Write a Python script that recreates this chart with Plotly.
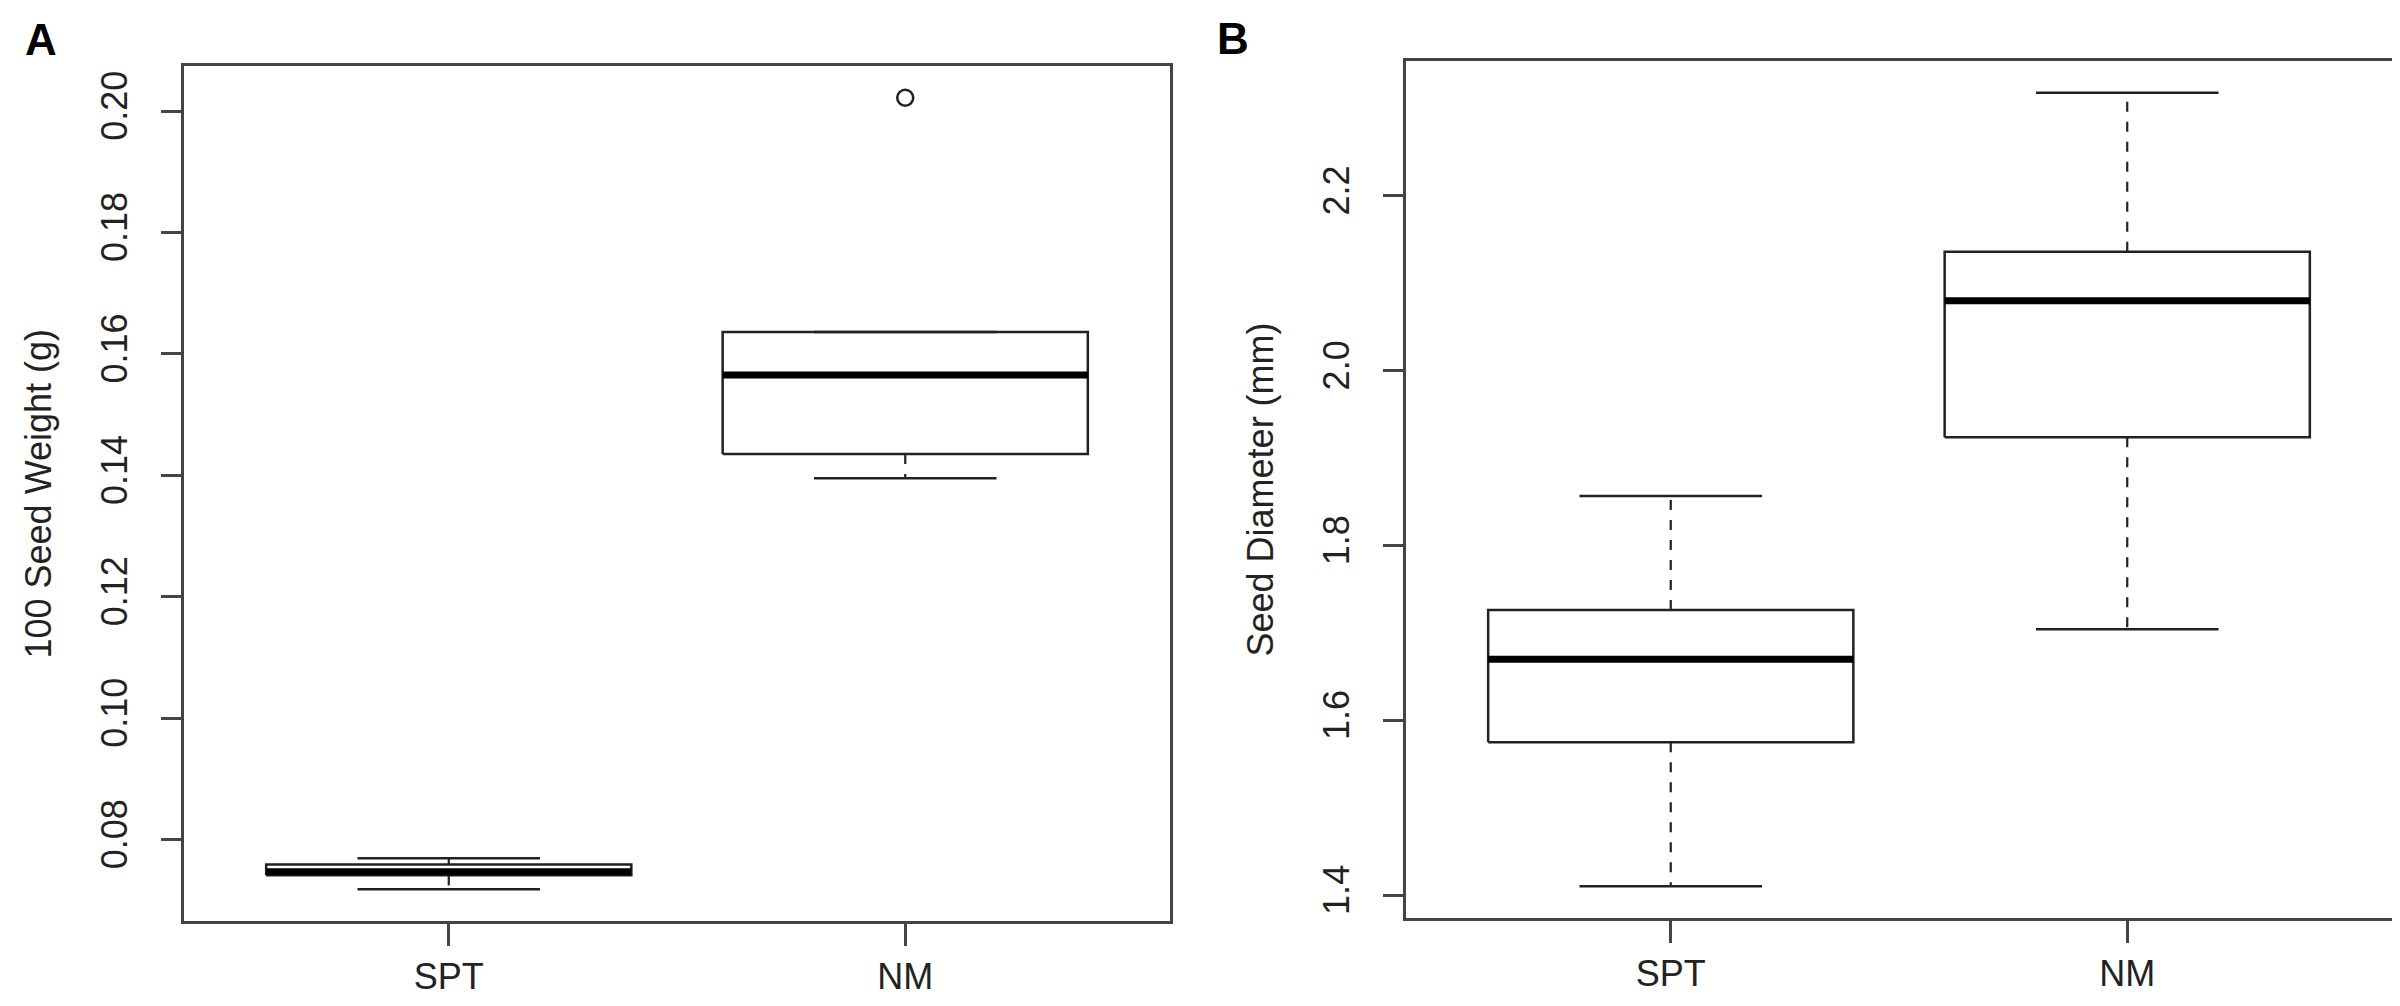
import plotly.graph_objects as go

groups = ["SPT", "NM"]
positions = [1, 2]

# panel A - 100 seed weight (g)
weight_low = [0.0718, 0.1395]
weight_q1 = [0.0741, 0.1435]
weight_median = [0.0747, 0.1565]
weight_q3 = [0.0759, 0.1636]
weight_high = [0.0769, 0.1636]
weight_outliers = [[], [0.2022]]
weight_ticks = [0.08, 0.10, 0.12, 0.14, 0.16, 0.18, 0.20]
weight_ticktext = ["0.08", "0.10", "0.12", "0.14", "0.16", "0.18", "0.20"]

# panel B - seed diameter (mm)
diam_low = [1.4103, 1.7044]
diam_q1 = [1.5751, 1.9240]
diam_median = [1.6700, 2.0800]
diam_q3 = [1.7262, 2.1360]
diam_high = [1.8567, 2.3180]
diam_outliers = [[], []]
diam_ticks = [1.4, 1.6, 1.8, 2.0, 2.2]
diam_ticktext = ["1.4", "1.6", "1.8", "2.0", "2.2"]

LINE = "#222222"
FRAME = "#444444"
FONT = "Liberation Sans, Arial, sans-serif"


def r_range(low, high, outliers):
    # R pads the data range by 4% on each side
    vals = low + high + [v for grp in outliers for v in grp]
    lo, hi = min(vals), max(vals)
    d = hi - lo
    return [lo - 0.04 * d, hi + 0.04 * d]


def add_boxes(fig, xa, ya, low, q1, med, q3, high, outliers):
    box_x, box_y = [], []
    med_x, med_y = [], []
    wh_x, wh_y = [], []
    cap_x, cap_y = [], []
    out_x, out_y = [], []
    for p, lo, a, m, b, hi, outs in zip(positions, low, q1, med, q3, high, outliers):
        box_x += [p - 0.4, p + 0.4, p + 0.4, p - 0.4, p - 0.4, None]
        box_y += [a, a, b, b, a, None]
        med_x += [p - 0.4, p + 0.4, None]
        med_y += [m, m, None]
        wh_x += [p, p, None, p, p, None]
        wh_y += [b, hi, None, a, lo, None]
        cap_x += [p - 0.2, p + 0.2, None, p - 0.2, p + 0.2, None]
        cap_y += [hi, hi, None, lo, lo, None]
        out_x += [p] * len(outs)
        out_y += outs

    common = dict(xaxis=xa, yaxis=ya, showlegend=False, hoverinfo="skip")
    fig.add_trace(go.Scatter(x=wh_x, y=wh_y, mode="lines",
                             line=dict(color=LINE, width=2.2, dash="10px,10px"), **common))
    fig.add_trace(go.Scatter(x=cap_x, y=cap_y, mode="lines",
                             line=dict(color=LINE, width=2.5), **common))
    fig.add_trace(go.Scatter(x=box_x, y=box_y, mode="lines",
                             line=dict(color=LINE, width=2.5), **common))
    fig.add_trace(go.Scatter(x=med_x, y=med_y, mode="lines",
                             line=dict(color="black", width=7), **common))
    if out_x:
        fig.add_trace(go.Scatter(x=out_x, y=out_y, mode="markers",
                                 marker=dict(symbol="circle-open", size=16, color=LINE,
                                             line=dict(width=2.5, color=LINE)), **common))


fig = go.Figure()
add_boxes(fig, "x", "y", weight_low, weight_q1, weight_median, weight_q3, weight_high, weight_outliers)
add_boxes(fig, "x2", "y2", diam_low, diam_q1, diam_median, diam_q3, diam_high, diam_outliers)

W, H = 2400, 1006
dom_ax = [176 / W, 1162 / W]
dom_ay = [1 - 913 / H, 1 - 58 / H]
dom_bx = [1398 / W, 2384 / W]
dom_by = [1 - 910 / H, 1 - 53 / H]

xcommon = dict(range=[0.42, 2.58], tickmode="array", tickvals=positions, ticktext=groups,
               showline=True, mirror=True, linecolor=FRAME, linewidth=3,
               ticks="outside", ticklen=22, tickwidth=2.5, tickcolor=FRAME,
               showgrid=False, zeroline=False, tickfont=dict(size=36, color="#222"))
ycommon = dict(tickmode="array", showline=True, mirror=True, linecolor=FRAME, linewidth=3,
               ticks="outside", ticklen=20, tickwidth=2.5, tickcolor=FRAME, tickangle=-90,
               ticklabelstandoff=20,
               showgrid=False, zeroline=False, tickfont=dict(size=36, color="#222"))

fig.update_layout(
    width=W, height=H,
    margin=dict(l=0, r=0, t=0, b=0),
    paper_bgcolor="white", plot_bgcolor="white",
    font=dict(family=FONT, color="#222"),
    xaxis=dict(domain=dom_ax, anchor="y", **xcommon),
    yaxis=dict(domain=dom_ay, anchor="x", range=r_range(weight_low, weight_high, weight_outliers),
               tickvals=weight_ticks, ticktext=weight_ticktext, **ycommon),
    xaxis2=dict(domain=dom_bx, anchor="y2", **xcommon),
    yaxis2=dict(domain=dom_by, anchor="x2", range=r_range(diam_low, diam_high, diam_outliers),
                tickvals=diam_ticks, ticktext=diam_ticktext, **ycommon),
    annotations=[
        dict(text="<b>A</b>", x=33 / W, y=1 - 31 / H, xref="paper", yref="paper",
             xanchor="center", yanchor="middle",
             showarrow=False, font=dict(size=44, color="black")),
        dict(text="<b>B</b>", x=1225 / W, y=1 - 30 / H, xref="paper", yref="paper",
             xanchor="center", yanchor="middle",
             showarrow=False, font=dict(size=44, color="black")),
        dict(text="100 Seed Weight (g)", textangle=-90, x=30 / W, y=sum(dom_ay) / 2,
             xref="paper", yref="paper", xanchor="center", yanchor="middle",
             showarrow=False, font=dict(size=36)),
        dict(text="Seed Diameter (mm)", textangle=-90, x=1252 / W, y=sum(dom_by) / 2,
             xref="paper", yref="paper", xanchor="center", yanchor="middle",
             showarrow=False, font=dict(size=36)),
    ],
)

fig.write_html("out.html")
